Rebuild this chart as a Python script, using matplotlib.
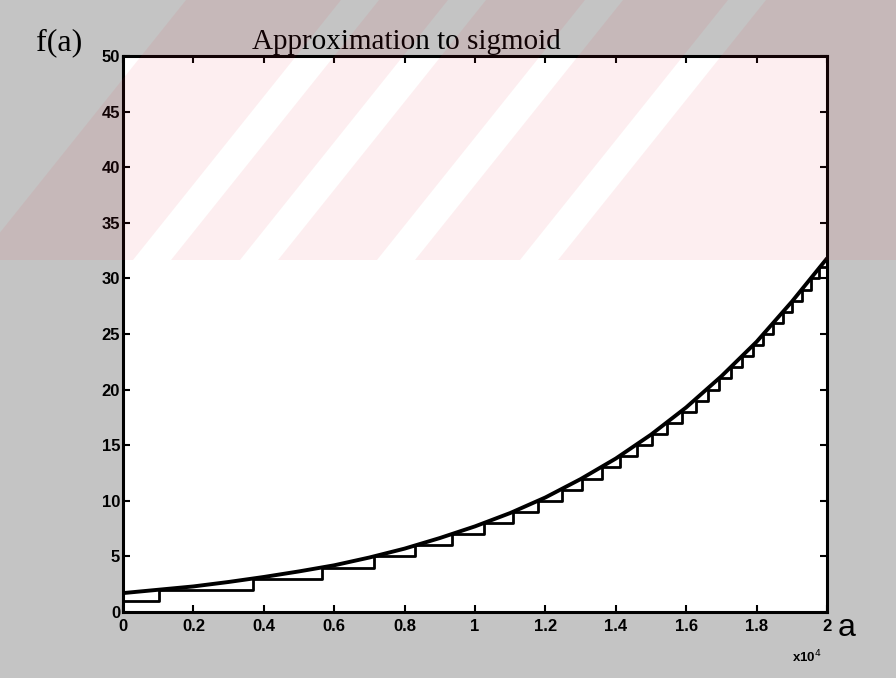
import matplotlib.pyplot as plt
from matplotlib.patches import Polygon, Rectangle

# smooth curve f(a), a in units of 1e4
a_curve = [0.0, 0.1, 0.2, 0.3, 0.4, 0.5, 0.6, 0.7, 0.8, 0.9, 1.0,
           1.1, 1.2, 1.3, 1.4, 1.5, 1.6, 1.7, 1.8, 1.9, 2.0]
f_curve = [1.7, 2.0, 2.3, 2.7, 3.15, 3.65, 4.2, 4.9, 5.7, 6.65, 7.7,
           8.9, 10.3, 11.95, 13.8, 15.95, 18.4, 21.2, 24.3, 27.9, 31.8]

# staircase approximation: level k starts at step_a[k-1]
step_a = [0.0, 0.102, 0.369, 0.565, 0.714, 0.830, 0.934, 1.026, 1.107, 1.180,
          1.246, 1.303, 1.362, 1.412, 1.459, 1.502, 1.546, 1.589, 1.627, 1.661,
          1.694, 1.726, 1.758, 1.791, 1.819, 1.846, 1.876, 1.900, 1.928, 1.954,
          1.978]
step_f = list(range(1, len(step_a) + 1))

x_ticks = [0, 0.2, 0.4, 0.6, 0.8, 1, 1.2, 1.4, 1.6, 1.8, 2]
x_tick_labels = ['0', '0.2', '0.4', '0.6', '0.8', '1', '1.2', '1.4', '1.6', '1.8', '2']
y_ticks = [0, 5, 10, 15, 20, 25, 30, 35, 40, 45, 50]

W, H = 896, 678
fig = plt.figure(figsize=(W / 100, H / 100), dpi=100)
fig.patch.set_facecolor('#c4c4c4')

ax = fig.add_axes([123 / W, (H - 612) / H, 704 / W, 556 / H])
ax.plot(a_curve, f_curve, color='black', lw=2.8, solid_capstyle='round')
ax.step(step_a + [2.0], step_f + [step_f[-1]], where='post', color='black', lw=2.0)

ax.set_xlim(0, 2)
ax.set_ylim(0, 50)
ax.set_xticks(x_ticks)
ax.set_xticklabels(x_tick_labels)
ax.set_yticks(y_ticks)
ax.tick_params(direction='in', length=5, width=1.5, top=True, right=True,
               labelsize=12)
ax.tick_params(axis='x', pad=5)
ax.tick_params(axis='y', pad=2)
for lab in ax.get_xticklabels() + ax.get_yticklabels():
    lab.set_fontweight('bold')
    lab.set_family('Liberation Sans')
for sp in ax.spines.values():
    sp.set_linewidth(2.2)

# texts around the axes
fig.text(406 / W, 1 - 49 / H, 'Approximation to sigmoid', family='Liberation Serif',
         fontsize=21, ha='center', va='baseline')
fig.text(36 / W, 1 - 50 / H, 'f(a)', family='Liberation Serif', fontsize=23,
         ha='left', va='baseline')
fig.text(838 / W, 1 - 636 / H, 'a', family='Liberation Sans', fontsize=23,
         ha='left', va='baseline')
fig.text(792 / W, 1 - 662 / H, r'x10$^4$', family='Liberation Sans', fontsize=9.5,
         fontweight='bold', ha='left', va='baseline')

# faint pink watermark band across the top
ov = fig.add_axes([0, 0, 1, 1], zorder=5)
ov.set_xlim(0, W)
ov.set_ylim(H, 0)
ov.axis('off')
ov.patch.set_alpha(0)
clip = Rectangle((0, 0), W, 260, transform=ov.transData, visible=False)
ov.add_patch(clip)
stripe_left = [-60, 133, 240, 377, 520]
stripe_w = 38
pink = dict(closed=True, facecolor='#e8283c', alpha=0.075, lw=0)
for i in range(len(stripe_left) - 1):
    x0 = stripe_left[i] + stripe_w
    x1 = stripe_left[i + 1]
    poly = Polygon([(x0, 260), (x1, 260), (x1 + 208, 0), (x0 + 208, 0)], **pink)
    ov.add_patch(poly)
    poly.set_clip_path(clip)
rest = Polygon([(558, 260), (W, 260), (W, 0), (766, 0)], **pink)
ov.add_patch(rest)
rest.set_clip_path(clip)

fig.savefig('out.png', dpi=100, facecolor=fig.get_facecolor())
